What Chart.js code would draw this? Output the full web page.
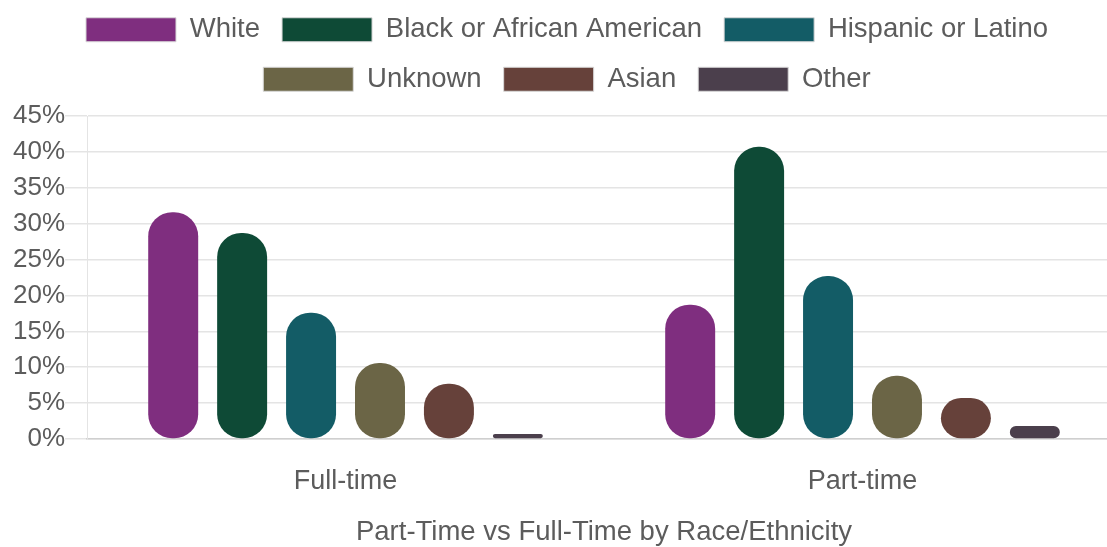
<!DOCTYPE html>
<html>
<head>
<meta charset="utf-8">
<script src="https://cdn.jsdelivr.net/npm/chart.js@4/dist/chart.umd.min.js"></script>
<style>
  html, body { margin: 0; padding: 0; background: #fff; overflow: hidden; }
  #wrap { width: 1121px; height: 547px; }
</style>
</head>
<body>
<div id="wrap"><canvas id="myChart"></canvas></div>
<script>
// categories on the x axis
var categorias = ['Full-time', 'Part-time'];
// one series per race/ethnicity (percent)
var white    = [31.6, 18.7];
var black    = [28.7, 40.7];
var hispanic = [17.6, 22.7];
var unknown  = [10.6, 8.8];
var asian    = [7.7, 5.7];
var other    = [0.7, 1.8];
var yTicks = [0, 5, 10, 15, 20, 25, 30, 35, 40, 45];

var fuente = "'Liberation Sans', Arial, sans-serif";
var gris = '#5c5c5c';

var serie = (label, data, color) => ({
    label: label,
    data: data,
    backgroundColor: color,
    borderColor: color,
    borderWidth: 0,
    borderRadius: 24,
    borderSkipped: false,
    categoryPercentage: 0.8,
    barPercentage: 0.725
});

// a bit more room under the legend
var legendMargin = {
    id: 'legendMargin',
    beforeInit(chart) {
        var fitOrig = chart.legend.fit;
        chart.legend.fit = function () {
            fitOrig.bind(chart.legend)();
            this.height += 13;
        };
    }
};

var ctx = document.getElementById('myChart').getContext('2d');
var chart = new Chart(ctx, {
    type: 'bar',
    data: {
        labels: categorias,
        datasets: [
            serie('White', white, '#7f2e7f'),
            serie('Black or African American', black, '#0e4a36'),
            serie('Hispanic or Latino', hispanic, '#135c66'),
            serie('Unknown', unknown, '#6b6546'),
            serie('Asian', asian, '#66413a'),
            serie('Other', other, '#4b3f4c')
        ]
    },
    plugins: [legendMargin],
    options: {
        responsive: true,
        maintainAspectRatio: false,
        animation: false,
        layout: { padding: { left: 13, right: 0, top: -6, bottom: 0 } },
        plugins: {
            tooltip: { enabled: false },
            legend: {
                position: 'top',
                labels: {
                    boxWidth: 90,
                    boxHeight: 24,
                    padding: 22,
                    color: gris,
                    font: { family: fuente, size: 27.5 },
                    generateLabels: (c) => c.data.datasets.map((d, i) => ({
                        text: d.label,
                        fillStyle: d.backgroundColor,
                        strokeStyle: '#d8d8d8',
                        lineWidth: 1,
                        fontColor: gris,
                        datasetIndex: i
                    }))
                }
            }
        },
        scales: {
            x: {
                grid: { display: false, drawTicks: false },
                border: { color: '#cfcfcf', width: 1.5 },
                ticks: { color: gris, font: { family: fuente, size: 27 }, padding: 26 },
                title: {
                    display: true,
                    text: 'Part-Time vs Full-Time by Race/Ethnicity',
                    color: gris,
                    font: { family: fuente, size: 27.5 },
                    padding: { top: 18, bottom: -2 }
                },
                afterFit: (ax) => { ax.height = 108; }
            },
            y: {
                min: 0,
                max: 45,
                afterBuildTicks: (ax) => { ax.ticks = yTicks.map(v => ({ value: v })); },
                grid: { color: '#e4e4e4', lineWidth: 1.5, tickLength: 22 },
                border: { color: '#e4e4e4' },
                ticks: {
                    autoSkip: false,
                    color: gris,
                    padding: 0,
                    font: { family: fuente, size: 26 },
                    callback: (v) => v + '%'
                }
            }
        }
    }
});
</script>
</body>
</html>
